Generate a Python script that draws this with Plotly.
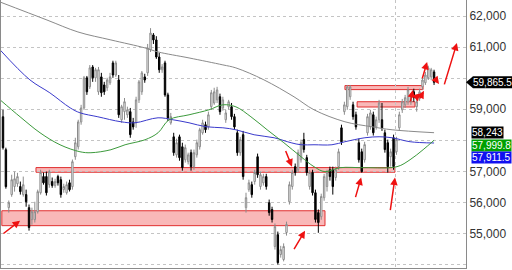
import plotly.graph_objects as go

# ---------------- data ----------------
opens = [
    58755, 57695, 55830, 56250, 56510, 56600, 56510, 56250, 56250, 55830,
    55445, 55445, 55700, 56310, 56830, 56830, 56570, 56670, 56540, 56830,
    56730, 56410, 56310, 56630, 56506, 57470, 57790, 58590, 59040, 60010,
    59720, 60360, 60010, 59560, 60040, 59780, 59690, 59850, 60490, 60100,
    59940, 58660, 58920, 58820, 58920, 58590, 58560, 59300, 59560, 60040,
    60170, 60910, 61390, 61230, 60680, 60270, 60490, 59460, 58560, 58110,
    57530, 58110, 57790, 57370, 57310, 57600, 57150, 57530, 57790, 58240,
    58500, 58430, 59080, 59200, 59300, 59400, 59040, 58660, 59080, 59080,
    58760, 58240, 57600, 58180, 55830, 56410, 56570, 56670, 57470, 56510,
    56630, 56830, 55990, 55770, 54580, 54960, 54320, 54160, 55030, 56020,
    56510, 57150, 57050, 57370, 58020, 57440, 56510, 56960, 56310, 55670,
    55540, 56150, 56510, 57050, 57050, 56800, 57150, 58400, 58920, 59080,
    59400, 59140, 58820, 57920, 57630, 57370, 58240, 58430, 58820, 58430,
    58660, 58660, 58240, 57920, 57470, 58080, 57630, 58400, 58980, 59140,
    59240, 59240, 59560, 59080, 59370, 59720, 59850, 60010, 60040, 60200,
]
closes = [
    57759, 56506, 55990, 56730, 56760, 56830, 56345, 56570, 56020, 55190,
    55700, 55700, 56345, 56960, 56630, 56310, 56990, 56540, 56670, 56630,
    56250, 56510, 56570, 56410, 57310, 57920, 58590, 59040, 60010, 59560,
    60330, 60010, 60270, 60270, 59530, 59560, 59940, 60040, 60100, 60490,
    58820, 59080, 59240, 58980, 58180, 58430, 59300, 59880, 60170, 59940,
    60970, 61450, 61230, 60680, 60270, 60360, 59460, 58720, 58760, 57600,
    57920, 57440, 57120, 57760, 57530, 57150, 57600, 57920, 58340, 58560,
    58340, 58820, 59530, 59560, 59620, 58920, 59300, 58880, 59240, 58760,
    58430, 57600, 58020, 56830, 56150, 56630, 56250, 56960, 56890, 56890,
    56830, 56510, 55670, 55450, 55220, 54060, 54480, 54580, 55290, 56570,
    56960, 56960, 57600, 57920, 57700, 56960, 56960, 56310, 55450, 55350,
    56190, 56830, 56960, 56830, 56510, 57050, 57630, 57950, 59140, 59720,
    59720, 58760, 58430, 57370, 56990, 57860, 58760, 58880, 58240, 58660,
    59200, 58400, 57700, 57150, 57630, 57150, 58020, 58820, 59240, 59370,
    59620, 59400, 59370, 59240, 59560, 59940, 60100, 60330, 60270, 59865.5,
]
highs = [
    58980, 57760, 56060, 56890, 56990, 56950, 56670, 56830, 56410, 55930,
    55830, 56020, 56410, 57050, 56960, 56990, 57050, 56800, 56760, 56890,
    56830, 56600, 56670, 56730, 57380, 58080, 58660, 59140, 60070, 60070,
    60420, 60420, 60330, 60360, 60170, 59880, 60010, 60170, 60560, 60560,
    60100, 59140, 59360, 59080, 59040, 58720, 59400, 59940, 60230, 60140,
    61100, 61610, 61450, 61350, 60810, 60450, 60560, 59530, 58880, 58240,
    58050, 58180, 57920, 57860, 57600, 57700, 57700, 58020, 58400, 58660,
    58600, 58920, 59620, 59690, 59720, 59500, 59400, 58980, 59300, 59200,
    58850, 58340, 58110, 58300, 56310, 56730, 56670, 57050, 57570, 56990,
    56920, 56920, 56090, 55860, 55320, 55060, 54600, 54680, 55380, 56670,
    57050, 57250, 57700, 58020, 58240, 57530, 57050, 57050, 56410, 55770,
    56280, 56920, 57050, 57150, 57150, 57150, 57730, 58500, 59240, 59780,
    59780, 59240, 58920, 58050, 57730, 57950, 58850, 58980, 58920, 58760,
    59300, 59200, 58340, 58020, 57730, 58180, 58110, 58920, 59330, 59460,
    59720, 59500, 59660, 59330, 59660, 60040, 60200, 60400, 60330, 60270,
]
lows = [
    57700, 56440, 55670, 56180, 56345, 56500, 56250, 56185, 55860, 55090,
    55280, 55350, 55640, 56250, 56570, 56220, 56470, 56470, 56470, 56540,
    56150, 56310, 56250, 56350, 56410, 57370, 57700, 58500, 58980, 59460,
    59650, 59880, 59880, 59460, 59400, 59460, 59590, 59780, 60010, 60040,
    58720, 58560, 58660, 58720, 58080, 58340, 58400, 59200, 59460, 59850,
    60070, 60840, 61100, 60620, 60170, 60170, 59400, 58620, 58500, 57500,
    57440, 57340, 57020, 57280, 57220, 57020, 57050, 57440, 57700, 58180,
    58240, 58340, 58980, 59140, 59200, 58820, 58950, 58560, 58980, 58660,
    58340, 57500, 57500, 56730, 55670, 56340, 56150, 56570, 56790, 56410,
    56540, 56410, 55570, 55350, 54480, 54000, 54220, 54100, 54930, 55930,
    56410, 56860, 56960, 57280, 57600, 56860, 56410, 56220, 55350, 55020,
    55440, 56050, 56350, 56700, 56250, 56700, 57050, 57850, 58820, 58980,
    59300, 58660, 58340, 57280, 56960, 57280, 58150, 58340, 58150, 58340,
    58560, 58300, 57600, 56960, 57150, 57050, 57530, 58300, 58880, 59040,
    59140, 59140, 59240, 58920, 59270, 59620, 59780, 59940, 59940, 59780,
]
bars = list(range(len(closes)))

# moving averages, sampled along the curve (bar index, value)
ma_long_x = [-1, 15.2, 25.9, 37.3, 49.1, 53.6, 64.3, 76, 80.5, 90.2, 100.6, 107.5, 118.2, 127.5, 134.5, 149]
ma_long_y = [62450, 61871, 61486, 61229, 60972, 60843, 60650, 60426, 60329, 59944, 59398, 58980, 58594, 58434, 58337, 58243]

ma_blue_x = [-1, 9.3, 16.2, 23.2, 26.6, 32.8, 40.8, 45.6, 53.6, 58.8, 64.3, 70.2, 76, 80.5, 86.8, 93.7, 99.6, 103, 107.5, 113.7, 118.2, 125.1, 130, 134.5, 140.7, 149]
ma_blue_y = [60908, 59944, 59526, 59044, 58884, 58755, 58594, 58562, 58723, 58658, 58562, 58434, 58401, 58337, 58177, 58080, 57919, 57855, 57855, 57855, 57952, 58080, 58112, 58080, 57952, 57911.5]

ma_green_x = [-1, 5.9, 12.8, 19.7, 26.6, 30.4, 37.3, 42.2, 49.1, 53.6, 57.4, 64.3, 71.2, 76, 80.5, 85.7, 91.3, 97.1, 103, 107.5, 111.3, 116.5, 125.1, 136.2, 140.7, 145.2, 149]
ma_green_y = [59301, 58755, 58241, 57855, 57630, 57598, 57695, 57855, 58016, 58241, 58658, 58819, 58980, 59141, 59076, 58755, 58337, 57919, 57470, 57149, 56988, 57116, 57116, 57149, 57373, 57695, 57999.8]

# support / resistance zones (bar from, bar to, low price, high price)
zone_x0 = [-0.4, 11.4, 118.2, 122.4]
zone_x1 = [111.3, 135.5, 145.2, 142.4]
zone_lo = [55250, 56970, 59630, 59070]
zone_hi = [55730, 57120, 59760, 59240]

# red arrows (tail bar, tail price, head bar, head price)
arr_tx = [-0.35, 97.5, 100.3, 121.7, 133.8, 152.4, 140.7, 144.8, 143.8, 142.8, 148.9]
arr_ty = [54960, 57700, 54450, 56120, 55700, 59750, 59200, 59950, 59300, 59500, 60040]
arr_hx = [5.9, 99.9, 104.4, 123.8, 135.5, 156.9, 141.7, 146.6, 145.5, 143.4, 150.7]
arr_hy = [55410, 57150, 55090, 56800, 56800, 61130, 59620, 60520, 59590, 59240, 59810]

tick_vals = [54000, 55000, 56000, 57000, 58000, 59000, 60000, 61000, 62000]
tick_text = ["54,000", "55,000", "56,000", "57,000", "", "59,000", "", "61,000", "62,000"]
grid_x = [135.5]

last_price = closes[-1]
ma_labels = [(ma_long_y[-1], "58,243", "black", 0),
             (ma_green_y[-1], "57,999.8", "#00a000", -5),
             (ma_blue_y[-1], "57,911.5", "#1010f0", -15)]

FONT = "Liberation Sans, Arial"

# ---------------- figure ----------------
fig = go.Figure()
fig.add_trace(go.Scatter(x=ma_long_x, y=ma_long_y, mode="lines",
                         line=dict(color="#8a8a8a", width=1, shape="spline"), hoverinfo="skip"))
fig.add_trace(go.Scatter(x=ma_blue_x, y=ma_blue_y, mode="lines",
                         line=dict(color="#3a3acc", width=1, shape="spline"), hoverinfo="skip"))
fig.add_trace(go.Scatter(x=ma_green_x, y=ma_green_y, mode="lines",
                         line=dict(color="#3c9a3c", width=1, shape="spline"), hoverinfo="skip"))
fig.add_trace(go.Candlestick(
    x=bars, open=opens, high=highs, low=lows, close=closes,
    increasing=dict(line=dict(color="#8c8c8c", width=1), fillcolor="white"),
    decreasing=dict(line=dict(color="black", width=1), fillcolor="black"),
    whiskerwidth=0,
))

for x0, x1, lo, hi in zip(zone_x0, zone_x1, zone_lo, zone_hi):
    fig.add_shape(type="rect", xref="x", yref="y", x0=x0, x1=x1, y0=lo, y1=hi,
                  fillcolor="rgba(247,160,160,0.75)", line=dict(color="#e03030", width=1),
                  layer="below")

for tx, ty, hx, hy in zip(arr_tx, arr_ty, arr_hx, arr_hy):
    fig.add_annotation(x=hx, y=hy, ax=tx, ay=ty, xref="x", yref="y", axref="x", ayref="y",
                       text="", showarrow=True, arrowhead=2, arrowsize=1, arrowwidth=1.5,
                       arrowcolor="#ee1111")

# last price marker
fig.add_shape(type="path", xref="paper", yref="y",
              path=f"M 1.0,{last_price} L 1.0151,{last_price + 195} L 1.0151,{last_price - 195} Z",
              fillcolor="black", line=dict(width=0))
fig.add_shape(type="rect", xref="paper", yref="y", x0=1.0151, x1=1.1,
              y0=last_price - 195, y1=last_price + 195, fillcolor="black", line=dict(width=0))
fig.add_annotation(x=1.0112, y=last_price, xref="paper", yref="y", xanchor="left",
                   text=f"{last_price:,.1f}", showarrow=False,
                   font=dict(color="white", size=10, family=FONT))

for val, txt, col, shift in ma_labels:
    fig.add_annotation(x=1.0100, y=val, xref="paper", yref="y", xanchor="left", yshift=shift,
                       text=txt, showarrow=False, bgcolor=col, borderpad=0,
                       font=dict(color="white", size=10, family=FONT))

fig.update_layout(
    width=512, height=270,
    margin=dict(l=1, r=46, t=0, b=2),
    paper_bgcolor="white", plot_bgcolor="white",
    showlegend=False,
    font=dict(family=FONT, size=12, color="#333333"),
    xaxis=dict(range=[-0.69, 160.04], rangeslider=dict(visible=False),
               tickvals=grid_x, showticklabels=False, ticks="",
               showgrid=True, gridcolor="#c4c4c4", griddash="dot", gridwidth=1,
               zeroline=False, showline=True, linecolor="#8a8a8a", linewidth=1),
    yaxis=dict(side="right", range=[53887, 62515], tickvals=tick_vals, ticktext=tick_text,
               ticks="", showgrid=True, gridcolor="#c4c4c4", griddash="dot", gridwidth=1,
               zeroline=False, showline=True, mirror=True, linecolor="#8a8a8a", linewidth=1,
               tickfont=dict(size=12, color="#333333", family=FONT)),
)

fig.write_html("out.html")
